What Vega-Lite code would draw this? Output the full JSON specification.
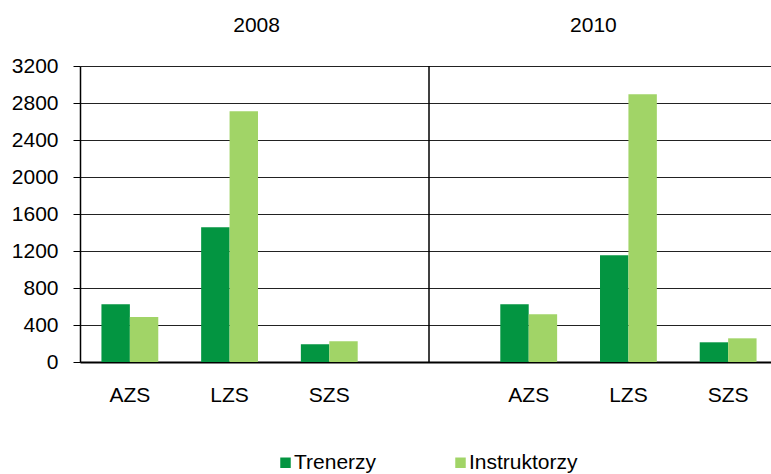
{
  "$schema": "https://vega.github.io/schema/vega-lite/v6.json",
  "autosize": {"type": "none"},
  "padding": {"left": 80, "top": 66, "right": 0, "bottom": 112},
  "width": 691,
  "height": 296,
  "background": "white",
  "config": {
    "view": {"stroke": null},
    "font": "Liberation Sans",
    "axis": {"labelFont": "Liberation Sans", "labelFontSize": 21, "labelColor": "#000"},
    "legend": {"labelFont": "Liberation Sans", "labelFontSize": 21, "labelColor": "#000"}
  },
  "resolve": {"axis": {"x": "independent", "y": "independent"}},
  "layer": [
    {
      "data": {
        "values": [
          {"slot": "2008 AZS", "type": "Trenerzy", "value": 624},
          {"slot": "2008 AZS", "type": "Instruktorzy", "value": 486},
          {"slot": "2008 LZS", "type": "Trenerzy", "value": 1456},
          {"slot": "2008 LZS", "type": "Instruktorzy", "value": 2710},
          {"slot": "2008 SZS", "type": "Trenerzy", "value": 191},
          {"slot": "2008 SZS", "type": "Instruktorzy", "value": 224},
          {"slot": "2010 AZS", "type": "Trenerzy", "value": 624},
          {"slot": "2010 AZS", "type": "Instruktorzy", "value": 516},
          {"slot": "2010 LZS", "type": "Trenerzy", "value": 1153},
          {"slot": "2010 LZS", "type": "Instruktorzy", "value": 2894},
          {"slot": "2010 SZS", "type": "Trenerzy", "value": 213},
          {"slot": "2010 SZS", "type": "Instruktorzy", "value": 256}
        ]
      },
      "mark": {"type": "bar"},
      "encoding": {
        "x": {
          "field": "slot",
          "type": "nominal",
          "scale": {
            "domain": ["2008 AZS", "2008 LZS", "2008 SZS", "gap", "2010 AZS", "2010 LZS", "2010 SZS"],
            "range": [0, 698],
            "paddingInner": 0.43,
            "paddingOuter": 0.215
          },
          "axis": {
            "title": null,
            "labelAngle": 0,
            "ticks": false,
            "labelPadding": 22,
            "domainColor": "#000",
            "domainWidth": 2,
            "labelExpr": "datum.value == 'gap' ? '' : split(datum.value, ' ')[1]"
          }
        },
        "xOffset": {
          "field": "type",
          "type": "nominal",
          "scale": {"domain": ["Trenerzy", "Instruktorzy"], "paddingInner": 0, "paddingOuter": 0}
        },
        "y": {
          "field": "value",
          "type": "quantitative",
          "scale": {"domain": [0, 3200], "nice": false},
          "axis": {
            "title": null,
            "values": [0, 400, 800, 1200, 1600, 2000, 2400, 2800, 3200],
            "format": "d",
            "labelOverlap": false,
            "tickSize": 7,
            "tickColor": "#000",
            "labelPadding": 15,
            "domainColor": "#000",
            "domainWidth": 1.5,
            "grid": true,
            "gridColor": "#222",
            "gridWidth": 1
          }
        },
        "color": {
          "field": "type",
          "type": "nominal",
          "scale": {"domain": ["Trenerzy", "Instruktorzy"], "range": ["#039541", "#A1D467"]},
          "legend": {
            "title": null,
            "orient": "none",
            "direction": "horizontal",
            "legendX": 195,
            "legendY": 386,
            "padding": 0,
            "symbolType": "square",
            "symbolSize": 110,
            "symbolStrokeWidth": 0,
            "labelOffset": -2,
            "columnPadding": 73
          }
        }
      }
    },
    {
      "data": {"values": [{"k": 1}]},
      "mark": {"type": "rule", "color": "#000", "strokeWidth": 1.5},
      "encoding": {"x": {"datum": "gap", "axis": null}}
    },
    {
      "data": {"values": [{"label": "2008"}]},
      "mark": {"type": "text", "fontSize": 21, "fontWeight": "normal", "baseline": "alphabetic", "align": "center", "dx": 27, "dy": -34, "color": "#000"},
      "encoding": {"x": {"datum": "2008 LZS", "axis": null}, "y": {"datum": 3200, "axis": null}, "text": {"field": "label"}}
    },
    {
      "data": {"values": [{"label": "2010"}]},
      "mark": {"type": "text", "fontSize": 21, "fontWeight": "normal", "baseline": "alphabetic", "align": "center", "dx": -35, "dy": -34, "color": "#000"},
      "encoding": {"x": {"datum": "2010 LZS", "axis": null}, "y": {"datum": 3200, "axis": null}, "text": {"field": "label"}}
    }
  ]
}
